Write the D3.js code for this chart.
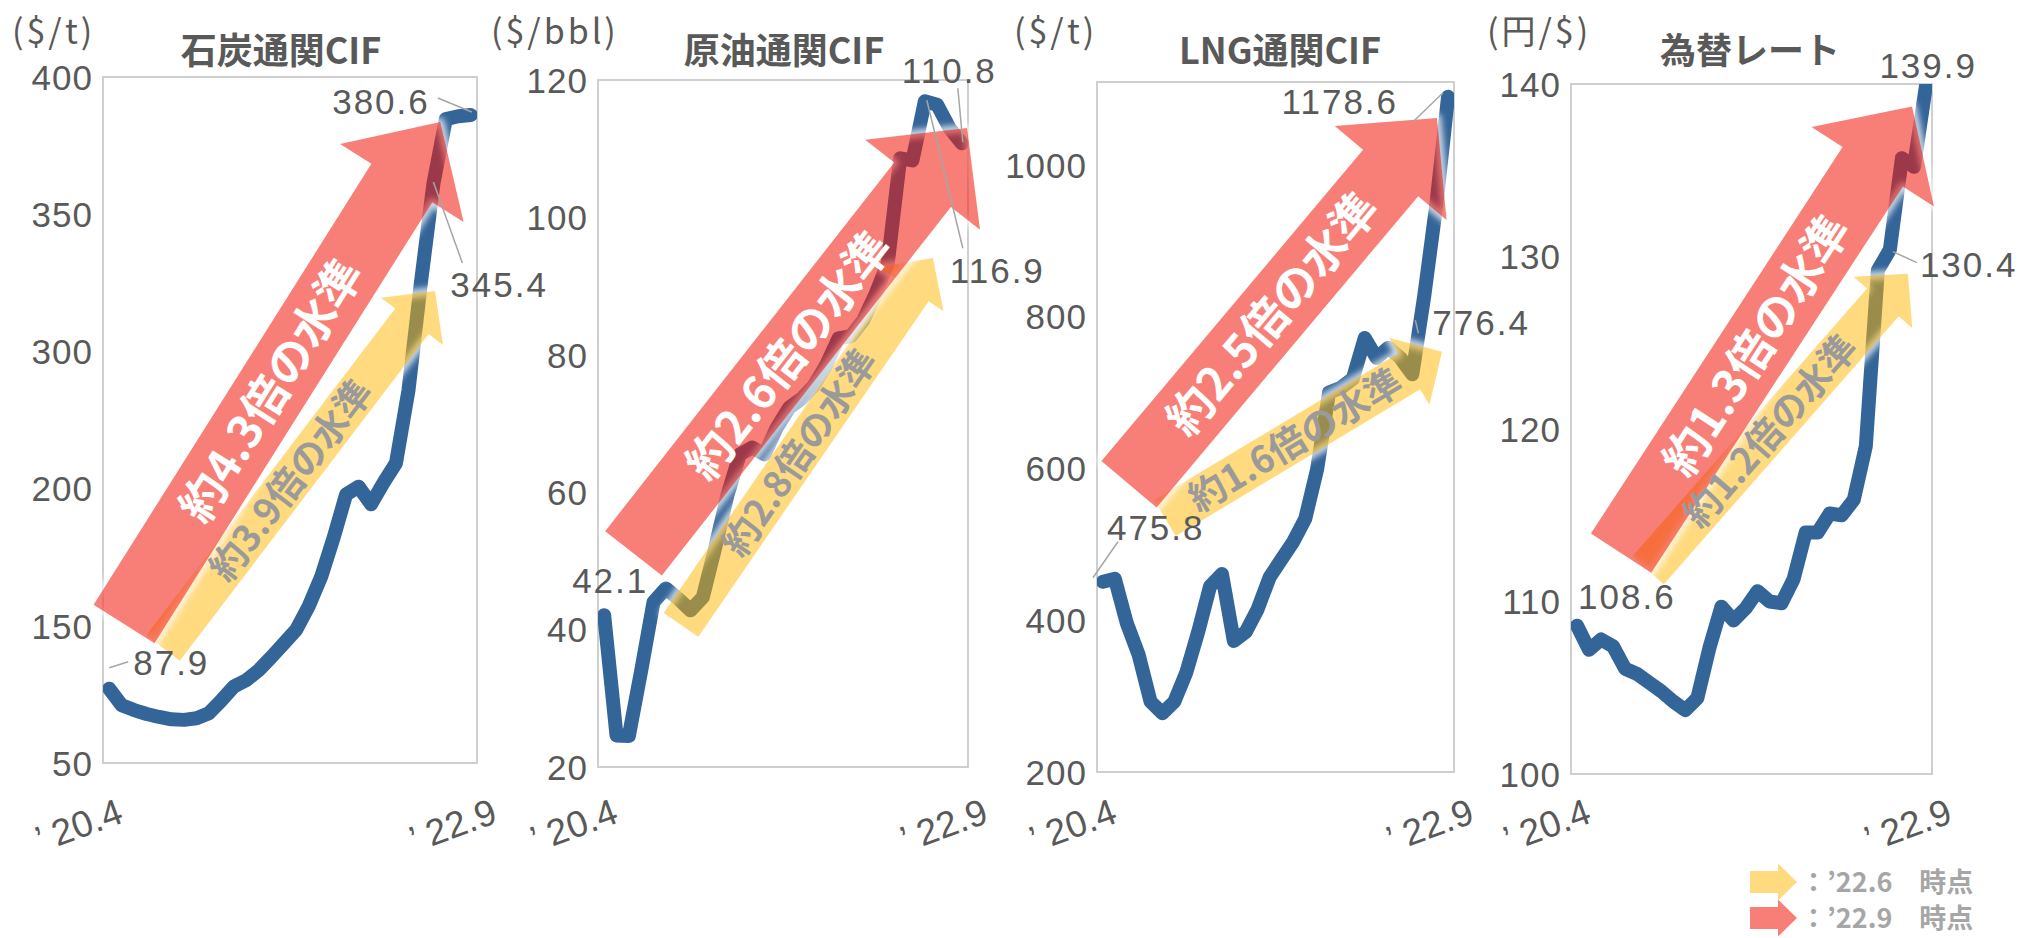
<!DOCTYPE html>
<html>
<head>
<meta charset="utf-8">
<script src="https://cdn.jsdelivr.net/npm/d3@7"></script>
<style>
  body { margin: 0; background: #fff; }
  svg { display: block; }
</style>
</head>
<body>
<div id="chart"></div>
<script>
// svg dimensions
var svgWidth = 2029;
var svgHeight = 938;

// months on the x axis ('20.4 ... '22.9)
var months = ["20.4", "20.5", "20.6", "20.7", "20.8", "20.9", "20.10", "20.11", "20.12",
  "21.1", "21.2", "21.3", "21.4", "21.5", "21.6", "21.7", "21.8", "21.9", "21.10", "21.11", "21.12",
  "22.1", "22.2", "22.3", "22.4", "22.5", "22.6", "22.7", "22.8", "22.9"];

// monthly series
var coalCif = [87.9, 79.5, 77.0, 75.0, 73.5, 72.3, 72.0, 72.8, 75.4, 82.0, 89.0, 92.3, 97.4, 104.0, 111.0,
  118.0, 130.0, 145.0, 165.0, 187.0, 191.0, 182.0, 193.0, 203.0, 240.0, 295.0, 345.4, 378.5, 380.0, 380.6];
var crudeCif = [42.1, 24.6, 24.5, 34.0, 44.0, 46.0, 44.5, 42.8, 44.7, 51.9, 59.6, 65.5, 66.5, 65.5, 69.4,
  72.3, 73.6, 75.5, 78.5, 82.4, 82.7, 85.0, 88.8, 93.4, 108.6, 108.3, 116.9, 116.4, 113.0, 110.8];
var lngCif = [475.8, 480, 416, 370, 302, 285, 302, 344, 403, 469, 487, 390, 403, 436, 482,
  508, 534, 567, 639, 750, 757, 770, 829, 800, 815, 800, 776.4, 890, 1020, 1178.6];
var usdJpy = [108.6, 107.2, 107.8, 107.4, 106.1, 105.8, 105.3, 104.8, 104.2, 103.7, 104.4, 107.3, 109.7, 108.9, 109.6,
  110.6, 110.0, 109.9, 111.3, 114.0, 114.0, 115.1, 115.0, 115.9, 119.0, 129.2, 130.4, 135.7, 135.2, 139.9];

var titles = ["石炭通関CIF", "原油通関CIF", "LNG通関CIF", "為替レート"];
var units = ["($/t)", "($/bbl)", "($/t)", "(円/$)"];
var yDomains = [[50, 400], [20, 120], [200, 1200], [100, 140]];
// tick positions (in data units) and the text printed at them
var tickValues = [[50, 120, 190, 260, 330, 400], [20, 40, 60, 80, 100, 120],
  [200, 420, 640, 860, 1080], [100, 110, 120, 130, 140]];
var tickLabels = [["50", "150", "200", "300", "350", "400"], ["20", "40", "60", "80", "100", "120"],
  ["200", "400", "600", "800", "1000"], ["100", "110", "120", "130", "140"]];
// months that get a value label: '20.4, '22.6, '22.9
var labelIndex = [0, 26, 29];

// ratio arrows: [tail, tip] as [month index, value]
var ratioSep = ["約4.3倍の水準", "約2.6倍の水準", "約2.5倍の水準", "約1.3倍の水準"];
var ratioJun = ["約3.9倍の水準", "約2.8倍の水準", "約1.6倍の水準", "約1.2倍の水準"];
var arrowSep = [[[1.19, 120.9], [26.55, 377.0]], [[2.38, 51.1], [29.42, 113.0]],
  [[2.19, 617], [28.07, 1148]], [[3.66, 112.8], [27.84, 138.7]]];
var arrowJun = [[[4.32, 108.7], [26.13, 290.8]], [[6.23, 40.7], [26.65, 94.1]],
  [[5.21, 568], [28.49, 809]], [[5.9, 111.8], [27.5, 129.0]]];
var legendLabels = ["：’22.6　時点", "：’22.9　時点"];

var series = [coalCif, crudeCif, lngCif, usdJpy];

// ---- layout / style ----
var frames = [
  {left: 103, right: 477, top: 77, bottom: 763, unitX: 12, titleX: 281},
  {left: 598, right: 968, top: 80, bottom: 767, unitX: 491, titleX: 784},
  {left: 1097, right: 1454, top: 82, bottom: 772, unitX: 1014, titleX: 1280},
  {left: 1571, right: 1932, top: 84, bottom: 774, unitX: 1487, titleX: 1750}
];
// value label offsets from the point (px) + optional leader line [x1,y1,x2,y2]
var labelPos = [
  [{dx: 24, dy: -26, anchor: "start", leader: [19, -27, 0, -21]},
   {dx: 17, dy: 101, anchor: "start", leader: [29, 79, 0, -2]},
   {dx: -41, dy: -13, anchor: "end", leader: [-33, -17, 1, -3]}],
  [{dx: -32, dy: -34, anchor: "start", leader: null},
   {dx: 25, dy: 169, anchor: "start", leader: [38, 147, 2, -1]},
   {dx: 35, dy: -72, anchor: "end", leader: [-4, -55, 1, -1]}],
  [{dx: 4, dy: -54, anchor: "start", leader: [15, -40, -10, -4]},
   {dx: 20, dy: -52, anchor: "start", leader: [3, -54, 6, -41]},
   {dx: -50, dy: 5, anchor: "end", leader: [-35, 25, -5, -4]}],
  [{dx: 1, dy: -29, anchor: "start", leader: null},
   {dx: 30, dy: 15, anchor: "start", leader: [27, 13, 3, 2]},
   {dx: 51, dy: -20, anchor: "end", leader: null}]
];

var lineColor = "#346599";
var textColor = "#595959";
var redFill = "rgb(240,22,10)", redOpacity = 0.55;
var yellowFill = "rgb(255,181,0)", yellowOpacity = 0.5;
var numFont = "'Liberation Sans', Arial, sans-serif";
var jpFont = "'Noto Sans CJK JP', 'Noto Sans', sans-serif";

// Create an SVG wrapper
var svg = d3.select("#chart")
  .append("svg")
  .attr("width", svgWidth)
  .attr("height", svgHeight);

var defs = svg.append("defs");
defs.append("filter")
  .attr("id", "glow")
  .attr("x", "-20%").attr("y", "-20%").attr("width", "140%").attr("height", "140%")
  .append("feGaussianBlur")
  .attr("stdDeviation", 3);

// block arrow polygon from tail centre to tip
function arrowPath(t, p, w, hw, hl) {
  var dx = p[0] - t[0], dy = p[1] - t[1];
  var len = Math.hypot(dx, dy);
  var ux = dx / len, uy = dy / len, nx = -uy, ny = ux;
  var bx = p[0] - ux * hl, by = p[1] - uy * hl;
  var pts = [
    [t[0] + nx * w / 2, t[1] + ny * w / 2],
    [bx + nx * w / 2, by + ny * w / 2],
    [bx + nx * hw / 2, by + ny * hw / 2],
    p,
    [bx - nx * hw / 2, by - ny * hw / 2],
    [bx - nx * w / 2, by - ny * w / 2],
    [t[0] - nx * w / 2, t[1] - ny * w / 2]];
  return d3.line()(pts) + "Z";
}

function drawArrow(g, t, p, size, fill, opacity, label, labelFill, fontSize) {
  var d = arrowPath(t, p, size.w, size.hw, size.hl);
  // soft white edge
  g.append("path")
    .attr("d", d)
    .attr("fill", "none")
    .attr("stroke", "#fff")
    .attr("stroke-width", 8)
    .attr("stroke-linejoin", "round")
    .attr("opacity", 0.8)
    .attr("filter", "url(#glow)");
  g.append("path")
    .attr("d", d)
    .attr("fill", fill)
    .attr("opacity", opacity);
  if (!label) return;
  var ang = Math.atan2(p[1] - t[1], p[0] - t[0]) * 180 / Math.PI;
  var k = 0.465;
  var cx = t[0] + (p[0] - t[0]) * k, cy = t[1] + (p[1] - t[1]) * k;
  g.append("text")
    .attr("transform", `translate(${cx},${cy}) rotate(${ang})`)
    .attr("text-anchor", "middle")
    .attr("dy", "0.36em")
    .attr("font-family", jpFont)
    .attr("font-weight", 700)
    .attr("font-size", fontSize)
    .attr("fill", labelFill)
    .text(label);
}

frames.forEach(function(f, k) {
  var data = series[k];
  var g = svg.append("g");

  var x = d3.scalePoint()
    .domain(months)
    .range([f.left, f.right])
    .padding(0.5);
  // fractional month index -> px (for the arrows)
  var xIdx = d3.scaleLinear()
    .domain([0, months.length - 1])
    .range([x(months[0]), x(months[months.length - 1])]);
  var y = d3.scaleLinear()
    .domain(yDomains[k])
    .range([f.bottom, f.top]);

  // frame
  g.append("rect")
    .attr("x", f.left).attr("y", f.top)
    .attr("width", f.right - f.left).attr("height", f.bottom - f.top)
    .attr("fill", "none")
    .attr("stroke", "#cfcfcf")
    .attr("stroke-width", 2);

  // y axis labels
  var leftAxis = d3.axisLeft(y)
    .tickValues(tickValues[k])
    .tickFormat(function(d, i) { return tickLabels[k][i]; })
    .tickSize(0)
    .tickPadding(10);
  var yAxis = g.append("g")
    .attr("transform", `translate(${f.left},0)`)
    .call(leftAxis);
  yAxis.select(".domain").remove();
  yAxis.attr("font-size", null).attr("font-family", null);
  yAxis.selectAll("text")
    .attr("font-family", numFont)
    .attr("font-size", 35)
    .attr("letter-spacing", 1)
    .attr("fill", textColor)
    .attr("dy", "0.35em");

  // x axis end labels
  [months[0], months[months.length - 1]].forEach(function(m, j) {
    var ax = (j === 0 ? f.left : f.right) + 22;
    g.append("text")
      .attr("transform", `translate(${ax},822) rotate(-20)`)
      .attr("text-anchor", "end")
      .attr("font-family", numFont)
      .attr("font-size", 37)
      .attr("fill", textColor)
      .text("’ " + m);
  });

  // title and unit
  g.append("text")
    .attr("x", f.titleX).attr("y", 51)
    .attr("dy", "0.36em")
    .attr("text-anchor", "middle")
    .attr("font-family", jpFont)
    .attr("font-weight", 700)
    .attr("font-size", 36)
    .attr("fill", textColor)
    .text(titles[k]);
  g.append("text")
    .attr("x", f.unitX).attr("y", 32)
    .attr("dy", "0.36em")
    .attr("font-family", jpFont)
    .attr("font-size", 34)
    .attr("letter-spacing", 3)
    .attr("fill", textColor)
    .text(units[k]);

  // line, clipped to the plot frame
  var clipId = "clip" + k;
  defs.append("clipPath").attr("id", clipId)
    .append("rect")
    .attr("x", f.left).attr("y", f.top)
    .attr("width", f.right - f.left).attr("height", f.bottom - f.top);
  var line = d3.line()
    .x(function(d, i) { return x(months[i]); })
    .y(function(d) { return y(d); });
  g.append("path")
    .datum(data)
    .attr("clip-path", `url(#${clipId})`)
    .attr("d", line)
    .attr("fill", "none")
    .attr("stroke", lineColor)
    .attr("stroke-width", 14)
    .attr("stroke-linejoin", "round")
    .attr("stroke-linecap", "round");

  // ratio arrows ('22.6 yellow under '22.9 red)
  var toPx = function(a) { return [xIdx(a[0]), y(a[1])]; };
  drawArrow(g, toPx(arrowJun[k][0]), toPx(arrowJun[k][1]), {w: 42, hw: 78, hl: 38},
    yellowFill, yellowOpacity, null);
  drawArrow(g, toPx(arrowSep[k][0]), toPx(arrowSep[k][1]), {w: 72, hw: 146, hl: 72},
    redFill, redOpacity, ratioSep[k], "#fff", 46);
  // yellow arrow text on top
  var tj = toPx(arrowJun[k][0]), pj = toPx(arrowJun[k][1]);
  var angJ = Math.atan2(pj[1] - tj[1], pj[0] - tj[0]) * 180 / Math.PI;
  g.append("text")
    .attr("transform", `translate(${tj[0] + (pj[0] - tj[0]) * 0.47},${tj[1] + (pj[1] - tj[1]) * 0.47}) rotate(${angJ})`)
    .attr("text-anchor", "middle")
    .attr("dy", "0.36em")
    .attr("font-family", jpFont)
    .attr("font-weight", 700)
    .attr("font-size", 37)
    .attr("fill", "#9a9a9a")
    .text(ratioJun[k]);

  // value labels with leader lines
  labelIndex.forEach(function(idx, j) {
    var s = labelPos[k][j];
    var px = x(months[idx]), py = y(data[idx]);
    if (s.leader) {
      g.append("line")
        .attr("x1", px + s.leader[0]).attr("y1", py + s.leader[1])
        .attr("x2", px + s.leader[2]).attr("y2", py + s.leader[3])
        .attr("stroke", "#a6a6a6")
        .attr("stroke-width", 1.5);
    }
    g.append("text")
      .attr("x", px + s.dx).attr("y", py + s.dy)
      .attr("dy", "0.35em")
      .attr("text-anchor", s.anchor)
      .attr("font-family", numFont)
      .attr("font-size", 35)
      .attr("letter-spacing", 2)
      .attr("fill", textColor)
      .text(d3.format(".1f")(data[idx]));
  });
});

// legend
var legend = svg.append("g");
[[yellowFill, yellowOpacity, 882], [redFill, redOpacity, 918]].forEach(function(l, j) {
  legend.append("path")
    .attr("d", arrowPath([1750, l[2]], [1797, l[2]], 22, 37, 19))
    .attr("fill", l[0])
    .attr("opacity", l[1]);
  legend.append("text")
    .attr("x", 1800).attr("y", l[2])
    .attr("dy", "0.36em")
    .attr("font-family", jpFont)
    .attr("font-weight", 700)
    .attr("font-size", 27)
    .attr("fill", "#a6a6a6")
    .text(legendLabels[j]);
});
</script>
</body>
</html>
